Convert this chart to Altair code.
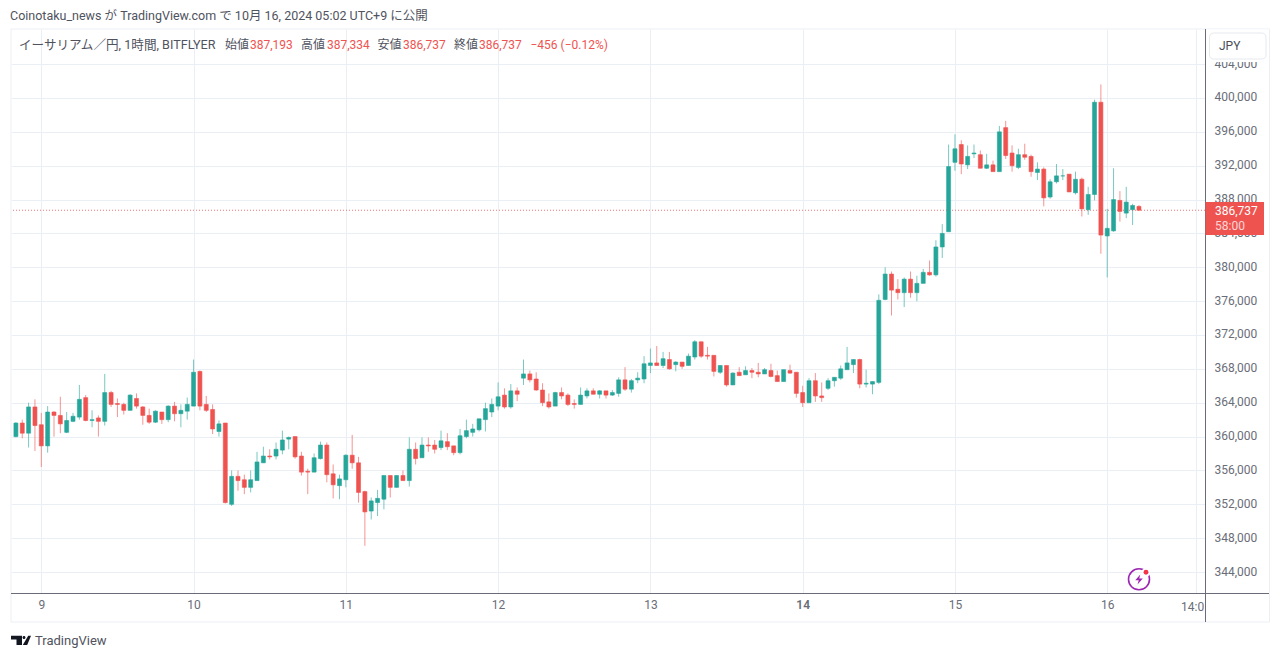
import altair as alt
import pandas as pd

# thousands of yen, hourly candles, first candle Oct 8 20:00
opens = [
360.0,361.6,360.4,363.5,361.4,358.9,362.9,362.5,360.5,361.8,
362.3,364.6,361.9,362.2,361.8,365.2,363.9,363.8,363.1,364.5,
363.5,362.5,361.7,362.9,362.0,363.6,362.7,363.0,363.6,367.7,
363.8,363.2,360.6,361.6,352.0,355.3,354.9,354.0,354.8,356.9,
357.7,357.7,358.4,359.7,360.0,357.7,355.9,355.8,357.4,359.0,
355.6,354.2,354.9,357.8,356.9,353.5,351.2,352.2,352.6,355.4,
354.0,355.4,354.8,358.5,357.5,359.0,359.0,358.7,359.4,358.9,
358.1,360.0,360.5,360.8,362.0,362.9,363.6,364.9,363.5,365.4,
366.9,367.4,366.8,365.5,364.1,363.6,365.2,364.9,363.9,363.8,
364.8,365.4,365.0,365.4,364.9,365.1,366.7,365.6,366.7,366.8,
368.4,368.7,368.4,369.1,368.5,368.8,368.4,369.4,371.2,369.6,
369.6,367.6,368.4,366.1,367.6,367.3,367.8,367.6,367.4,367.8,
367.2,366.5,367.8,367.6,365.2,364.0,366.6,364.8,365.7,366.6,
366.9,367.9,368.5,369.1,366.2,366.2,366.4,376.2,379.2,377.4,
377.0,378.6,377.0,378.1,379.4,379.1,382.4,384.2,392.4,394.5,
392.1,393.4,393.3,391.7,392.1,391.3,396.5,393.5,391.8,393.3,
393.1,391.2,391.6,388.3,390.1,390.8,391.0,388.8,390.4,386.8,
388.6,399.5,383.7,384.3,387.9,386.4,386.8,387.193]
closes = [
361.6,360.4,363.5,361.3,358.9,362.9,362.5,361.5,361.9,362.4,
364.4,361.9,362.0,361.8,365.2,363.8,363.8,363.1,364.9,363.6,
362.5,361.7,363.0,362.0,363.6,362.7,363.1,363.8,367.6,363.6,
363.1,360.9,361.5,352.2,355.3,354.8,354.0,354.9,357.0,357.7,
357.6,358.5,359.6,359.9,357.6,355.8,355.8,357.5,359.0,355.5,
354.3,355.0,357.8,356.9,353.4,351.1,352.4,352.7,355.4,354.0,
355.4,354.8,358.5,357.4,359.0,358.9,358.5,359.5,358.8,358.1,
360.1,360.7,360.9,362.1,363.3,363.8,364.7,363.5,365.4,365.0,
367.4,366.7,365.5,364.0,363.5,365.2,364.8,363.8,363.8,364.9,
365.4,365.0,365.4,364.9,365.2,366.7,365.6,366.6,366.9,368.6,
368.7,368.4,369.2,368.0,368.8,368.3,369.5,371.2,369.5,369.5,
367.7,368.4,366.1,367.5,367.2,367.8,367.6,367.4,367.9,367.1,
366.5,367.9,367.5,365.1,364.0,366.6,364.8,364.6,366.6,367.0,
368.0,368.7,369.1,366.2,366.3,366.5,376.1,379.2,377.3,377.0,
378.6,377.0,378.1,379.4,379.1,382.4,384.0,391.9,394.0,392.2,
393.1,393.5,391.7,392.1,391.3,396.0,393.2,392.0,393.3,393.0,
391.3,391.6,388.2,390.1,390.8,390.8,388.9,390.4,386.9,388.6,
399.5,383.8,384.6,388.0,386.6,387.7,387.3,386.737]
highs = [
361.7,362.0,364.0,364.4,362.8,363.6,363.0,364.7,362.9,362.8,
366.1,364.9,363.1,362.5,367.4,365.4,364.5,364.0,365.0,365.1,
363.6,363.3,363.1,362.9,363.7,364.1,363.8,364.6,369.1,367.8,
364.8,363.8,361.9,361.6,356.0,356.0,355.5,356.0,358.2,358.8,
358.5,359.3,360.7,360.0,360.0,358.2,356.2,358.0,359.4,359.3,
356.7,355.5,357.9,360.2,357.6,353.6,352.8,353.7,355.4,355.4,
355.4,356.0,359.9,359.3,359.9,359.9,359.6,360.7,360.4,358.9,
360.9,362.0,361.5,362.1,364.0,364.5,366.4,365.7,366.2,365.8,
369.1,367.8,367.6,366.3,365.1,365.3,365.8,365.1,364.4,365.8,
365.7,365.7,365.5,365.4,365.5,367.0,368.2,366.8,367.6,369.5,
370.4,370.7,370.0,370.0,368.9,368.8,369.8,371.4,371.2,370.6,
369.6,368.4,368.4,367.6,368.2,368.3,368.1,368.7,368.1,368.6,
367.8,367.9,368.5,367.6,366.0,366.9,367.5,366.4,366.9,367.0,
368.4,370.6,369.1,369.2,367.9,366.5,376.8,380.0,379.5,378.6,
378.8,379.5,379.0,379.8,380.8,383.2,385.1,394.5,395.7,395.0,
394.4,394.5,393.8,393.4,392.6,396.7,397.3,394.4,394.0,394.6,
393.3,392.4,391.8,390.4,392.2,391.6,391.0,391.3,390.6,389.5,
399.8,401.6,386.9,391.7,389.0,389.5,387.5,387.334]
lows = [
359.9,359.8,358.7,358.3,356.4,358.1,360.0,360.4,360.4,361.7,
362.0,361.8,361.1,360.0,361.3,363.5,362.3,362.6,363.1,363.3,
361.4,361.5,361.6,361.5,361.7,361.8,361.1,362.0,363.6,363.1,
362.9,360.3,360.0,352.1,351.8,353.6,353.2,353.4,354.8,356.9,
357.3,357.3,357.9,358.5,357.4,355.4,353.2,355.8,357.3,354.6,
352.7,352.6,354.0,356.2,352.2,347.1,350.2,350.6,351.4,352.8,
354.0,354.8,354.1,356.7,357.5,358.2,358.0,358.4,358.4,357.8,
357.9,359.8,360.0,360.6,360.6,362.3,363.1,363.3,363.3,364.2,
366.1,366.4,365.4,363.6,363.3,363.6,364.4,363.6,363.3,363.8,
364.5,365.0,364.5,364.5,364.8,364.7,365.4,365.2,366.3,366.3,
367.5,368.4,368.1,367.9,367.7,368.0,368.4,369.1,369.3,369.1,
367.1,367.4,365.9,366.1,367.2,367.3,366.9,367.0,367.4,367.0,
366.5,366.5,367.4,364.6,363.5,364.0,364.1,364.1,365.5,365.9,
366.7,367.9,367.5,365.7,365.8,365.0,366.2,376.1,374.3,376.2,
375.3,376.4,376.0,378.1,379.0,378.9,381.1,384.2,391.4,391.0,
391.6,392.9,391.7,391.6,391.3,391.3,392.8,391.3,391.6,392.7,
390.7,390.3,387.2,388.1,389.9,390.3,388.9,388.6,386.0,386.2,
387.9,381.6,378.8,384.2,385.4,385.8,385.0,386.737]

price_ticks = [344, 348, 352, 356, 360, 364, 368, 372, 376, 380, 384, 388, 392, 396, 400, 404]
day_ticks = [0, 24, 48, 72, 96, 120, 144, 168, 182]      # hours after Oct 9 00:00
day_labels = ["9", "10", "11", "12", "13", "14", "15", "16", ""]
last_price = 386.737

GREEN, RED = "#26a69a", "#ef5350"
GRID = "#e9eff5"
LINE = "#6a6d78"
TEXT = "#6a6d78"
FONT = "Roboto, 'Noto Sans CJK JP', sans-serif"
X0, Y0 = 11, 29

df = pd.DataFrame({
    "hour": [i - 4 for i in range(len(opens))],
    "open": opens, "high": highs, "low": lows, "close": closes,
})
df["dir"] = ["down" if c < o else "up" for o, c in zip(opens, closes)]

x_scale = alt.Scale(domain=[-4.775, 183.41], nice=False, zero=False, padding=0)
y_scale = alt.Scale(domain=[341.52, 408.15], nice=False, zero=False, padding=0)
dir_scale = alt.Scale(domain=["up", "down"], range=[GREEN, RED])
color = alt.Color("dir:N", scale=dir_scale, legend=None)

label_map = "{" + ",".join(f"'{v}':'{l}'" for v, l in zip(day_ticks, day_labels)) + "}"
x_axis = alt.Axis(
    values=day_ticks, grid=True, gridColor=GRID, gridWidth=1, domain=False, ticks=False,
    labelExpr=f"{label_map}[datum.value]", labelColor=TEXT, labelFont=FONT, labelFontSize=12,
    labelFontWeight={"condition": {"test": "datum.value === 120", "value": 600}, "value": 400},
    labelPadding=6, labelOverlap=False, title=None)
y_axis = alt.Axis(
    orient="right", values=price_ticks, grid=True, gridColor=GRID, gridWidth=1, domain=False, ticks=False,
    labelExpr="format(datum.value*1000, ',')", labelColor=TEXT, labelFont=FONT, labelFontSize=12,
    labelPadding=9, labelOverlap=False, labelFlush=False, labelOffset=-1, title=None)

wicks = alt.Chart(df).mark_rule(strokeWidth=1, opacity=0.62).encode(
    x=alt.X("hour:Q", scale=x_scale, axis=x_axis),
    y=alt.Y("low:Q", scale=y_scale, axis=y_axis), y2="high:Q", color=color)
bodies = alt.Chart(df).mark_bar(size=4, strokeWidth=0.6).encode(
    x=alt.X("hour:Q", scale=x_scale, axis=x_axis),
    y=alt.Y("open:Q", scale=y_scale, axis=y_axis), y2="close:Q",
    color=color, stroke=alt.Stroke("dir:N", scale=dir_scale, legend=None))
price_line = alt.Chart(pd.DataFrame({"p": [last_price]})).mark_rule(
    color=RED, strokeWidth=1, strokeDash=[1, 2], opacity=0.8).encode(y=alt.Y("p:Q", scale=y_scale, axis=y_axis))

blank = alt.Data(values=[{}])


def text(s, x, y, col=TEXT, size=12, align="left", op=1.0, weight=400, font=FONT):
    return alt.Chart(blank).mark_text(text=s, align=align, baseline="middle", color=col, fontSize=size,
                                      font=font, opacity=op, fontWeight=weight).encode(
        x=alt.value(x - X0), y=alt.value(y - Y0))


def box(x1, y1, x2, y2, fill=None, stroke=None, radius=0, sw=1):
    kw = {}
    if fill:
        kw["fill"] = fill
    else:
        kw["fillOpacity"] = 0
    if stroke:
        kw["stroke"] = stroke
        kw["strokeWidth"] = sw
    if radius:
        kw["cornerRadius"] = radius
    return alt.Chart(blank).mark_rect(**kw).encode(
        x=alt.value(x1 - X0), x2=alt.value(x2 - X0), y=alt.value(y1 - Y0), y2=alt.value(y2 - Y0))


def vline(x, y1, y2, col, w=1):
    return alt.Chart(blank).mark_rule(color=col, strokeWidth=w).encode(
        x=alt.value(x - X0), y=alt.value(y1 - Y0), y2=alt.value(y2 - Y0))


def hline(x1, x2, y, col, w=1):
    return alt.Chart(blank).mark_rule(color=col, strokeWidth=w).encode(
        x=alt.value(x1 - X0), x2=alt.value(x2 - X0), y=alt.value(y - Y0))


def glyph(path, x, y, size, fill=None, stroke=None, sw=1):
    kw = {"shape": path, "size": size, "opacity": 1}
    if fill:
        kw.update(filled=True, fill=fill, stroke=fill, strokeWidth=0)
    else:
        kw.update(filled=False, stroke=stroke, strokeWidth=sw)
    return alt.Chart(blank).mark_point(**kw).encode(x=alt.value(x - X0), y=alt.value(y - Y0))


tv_logo = ("M-1,-0.47H0.1V0.45H-0.45V-0.1H-1Z"
           "M0.72,-0.47H1.0L0.62,0.45H0.18Z"
           "M0.15,-0.3a0.15,0.15 0 1,0 0.3,0a0.15,0.15 0 1,0 -0.3,0Z")
bolt = "M0.25,-1L-0.75,0.15H-0.05L-0.3,1L0.75,-0.2H0.05Z"

decor = [
    box(X0, 29, 1269.5, 622, stroke="#eceff4"),
    box(1206, 29.5, 1269, 62, fill="#ffffff"),
    box(1209.5, 33, 1266, 59, fill="#ffffff", stroke="#e6e9ee", radius=4),
    text("JPY", 1219, 45.5, col="#4a4d57", size=12),
    vline(1205.5, 29, 622, LINE),
    hline(X0, 1269, 593.5, LINE),
    box(1205.5, 202, 1264, 235, fill=RED),
    text("386,737", 1215, 210.5, col="#ffffff"),
    text("58:00", 1215, 225.5, col="#ffffff", op=0.75),
    text("14:0", 1181, 606.5),
    text("Coinotaku_news が TradingView.com で 10月 16, 2024 05:02 UTC+9 に公開", 10, 16, col="#50535e", size=12.5),
    text("イーサリアム／円, 1時間, BITFLYER", 19, 45, col="#50535e", size=12.6),
    text("始値", 225, 45, col="#50535e"),
    text("387,193", 250, 45, col=RED),
    text("高値", 301, 45, col="#50535e"),
    text("387,334", 327, 45, col=RED),
    text("安値", 377.5, 45, col="#50535e"),
    text("386,737", 403, 45, col=RED),
    text("終値", 454, 45, col="#50535e"),
    text("386,737", 479, 45, col=RED),
    text("−456 (−0.12%)", 530.5, 45, col=RED),
    glyph(tv_logo, 21, 640.5, 400, fill="#131722"),
    text("TradingView", 35, 641, col="#50535e", size=13),
    alt.Chart(blank).mark_point(shape="circle", size=440, filled=False, stroke="#9c27b0", strokeWidth=1.6, opacity=1).encode(
        x=alt.value(1139 - X0), y=alt.value(579.3 - Y0)),
    glyph(bolt, 1139, 579.5, 100, fill="#9c27b0"),
    alt.Chart(blank).mark_point(shape="circle", size=70, filled=True, fill="#ffffff", opacity=1, strokeWidth=0).encode(
        x=alt.value(1146 - X0), y=alt.value(572.3 - Y0)),
    alt.Chart(blank).mark_point(shape="circle", size=24, filled=True, fill="#f23645", opacity=1, strokeWidth=0).encode(
        x=alt.value(1146 - X0), y=alt.value(572.3 - Y0)),
]

chart = alt.layer(wicks, price_line, bodies, *decor).resolve_scale(color="shared").properties(
    width=1194, height=564,
    autosize=alt.AutoSizeParams(type="none"),
    padding={"left": 3, "top": 21, "right": 66, "bottom": 56},
    background="#ffffff",
).configure_view(stroke=None)

chart.save("out.html", embed_options={"renderer": "svg", "actions": False})
